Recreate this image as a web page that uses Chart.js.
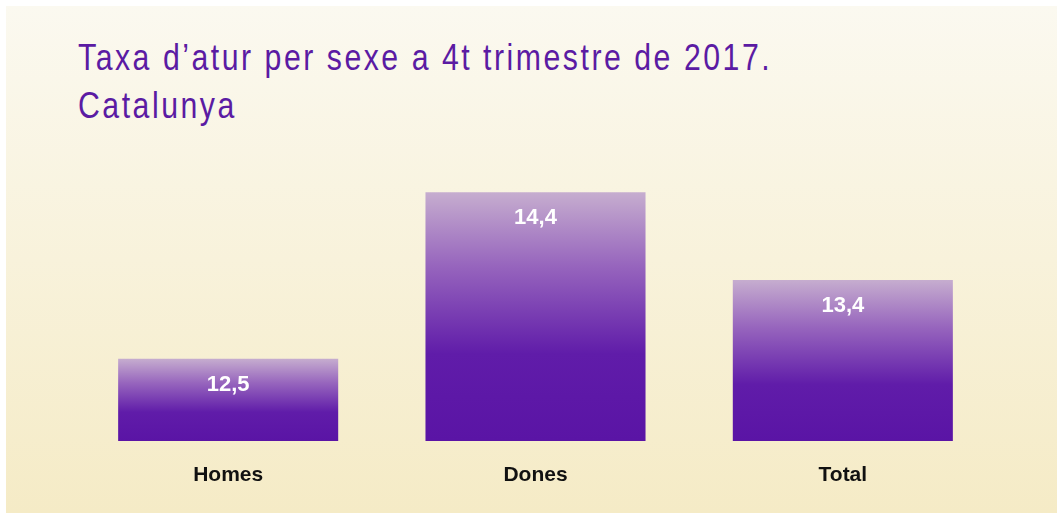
<!DOCTYPE html>
<html lang="ca">
<head>
<meta charset="UTF-8">
<title>Taxa d'atur per sexe</title>
<script src="https://cdn.jsdelivr.net/npm/chart.js"></script>
<style>
  html, body { margin: 0; padding: 0; background: #ffffff; }
  #panel {
    position: absolute; left: 6px; top: 6px; width: 1051px; height: 507px;
    background: linear-gradient(to bottom, #fbf9f0 0%, #f5ebc6 100%);
  }
  #titol {
    position: absolute; left: 72px; top: 28px; margin: 0; white-space: nowrap;
    font-family: "Liberation Sans", Arial, sans-serif;
    font-weight: normal; font-size: 36px; line-height: 48px; letter-spacing: 3px;
    color: #5b1ba3;
    transform: scaleX(0.84); transform-origin: left top;
  }
  #chart { position: absolute; left: 0; top: 0; }
</style>
</head>
<body>
<div id="panel">
  <h1 id="titol">Taxa d’atur per sexe a 4t trimestre de 2017.<br>Catalunya</h1>
  <canvas id="chart" width="1051" height="507"></canvas>
</div>
<script>
  // dades
  const categories = ['Homes', 'Dones', 'Total'];
  const taxes = [12.5, 14.4, 13.4];

  const fmt = v => v.toFixed(1).replace('.', ',');

  // degradat vertical per a cada barra
  function colorBarra(ctx) {
    const chart = ctx.chart;
    if (!chart.chartArea || ctx.dataIndex === undefined) return '#5c16a8';
    const y = chart.scales.y;
    const top = y.getPixelForValue(taxes[ctx.dataIndex]);
    const bottom = chart.chartArea.bottom;
    const g = chart.ctx.createLinearGradient(0, top, 0, bottom);
    g.addColorStop(0, '#c6adcf');
    g.addColorStop(0.3, '#9664bd');
    g.addColorStop(0.65, '#601ca9');
    g.addColorStop(1, '#5a14a5');
    return g;
  }

  // etiquetes de valor dins de les barres
  const etiquetes = {
    id: 'etiquetes',
    afterDatasetsDraw(chart) {
      const c = chart.ctx;
      const meta = chart.getDatasetMeta(0);
      c.save();
      c.fillStyle = '#ffffff';
      c.font = 'bold 22px "Liberation Sans", Arial, sans-serif';
      c.textAlign = 'center';
      c.textBaseline = 'middle';
      meta.data.forEach((bar, i) => {
        c.fillText(fmt(taxes[i]), bar.x, bar.y + 26);
      });
      c.restore();
    }
  };

  new Chart(document.getElementById('chart'), {
    type: 'bar',
    data: {
      labels: categories,
      datasets: [{
        data: taxes,
        backgroundColor: colorBarra,
        borderWidth: 0,
        barPercentage: 0.716,
        categoryPercentage: 1
      }]
    },
    options: {
      responsive: false,
      animation: false,
      layout: { padding: { left: 68.5, right: 60.5, top: 20, bottom: 0 } },
      plugins: { legend: { display: false }, tooltip: { enabled: false } },
      scales: {
        x: {
          grid: { display: false, drawTicks: false },
          border: { display: false },
          ticks: {
            color: '#111111',
            padding: 22,
            font: { family: '"Liberation Sans", Arial, sans-serif', size: 21, weight: 'bold' }
          },
          afterFit: s => { s.height = 72; }
        },
        y: {
          display: false,
          min: 11.56,
          max: 16.3
        }
      }
    },
    plugins: [etiquetes]
  });
</script>
</body>
</html>
